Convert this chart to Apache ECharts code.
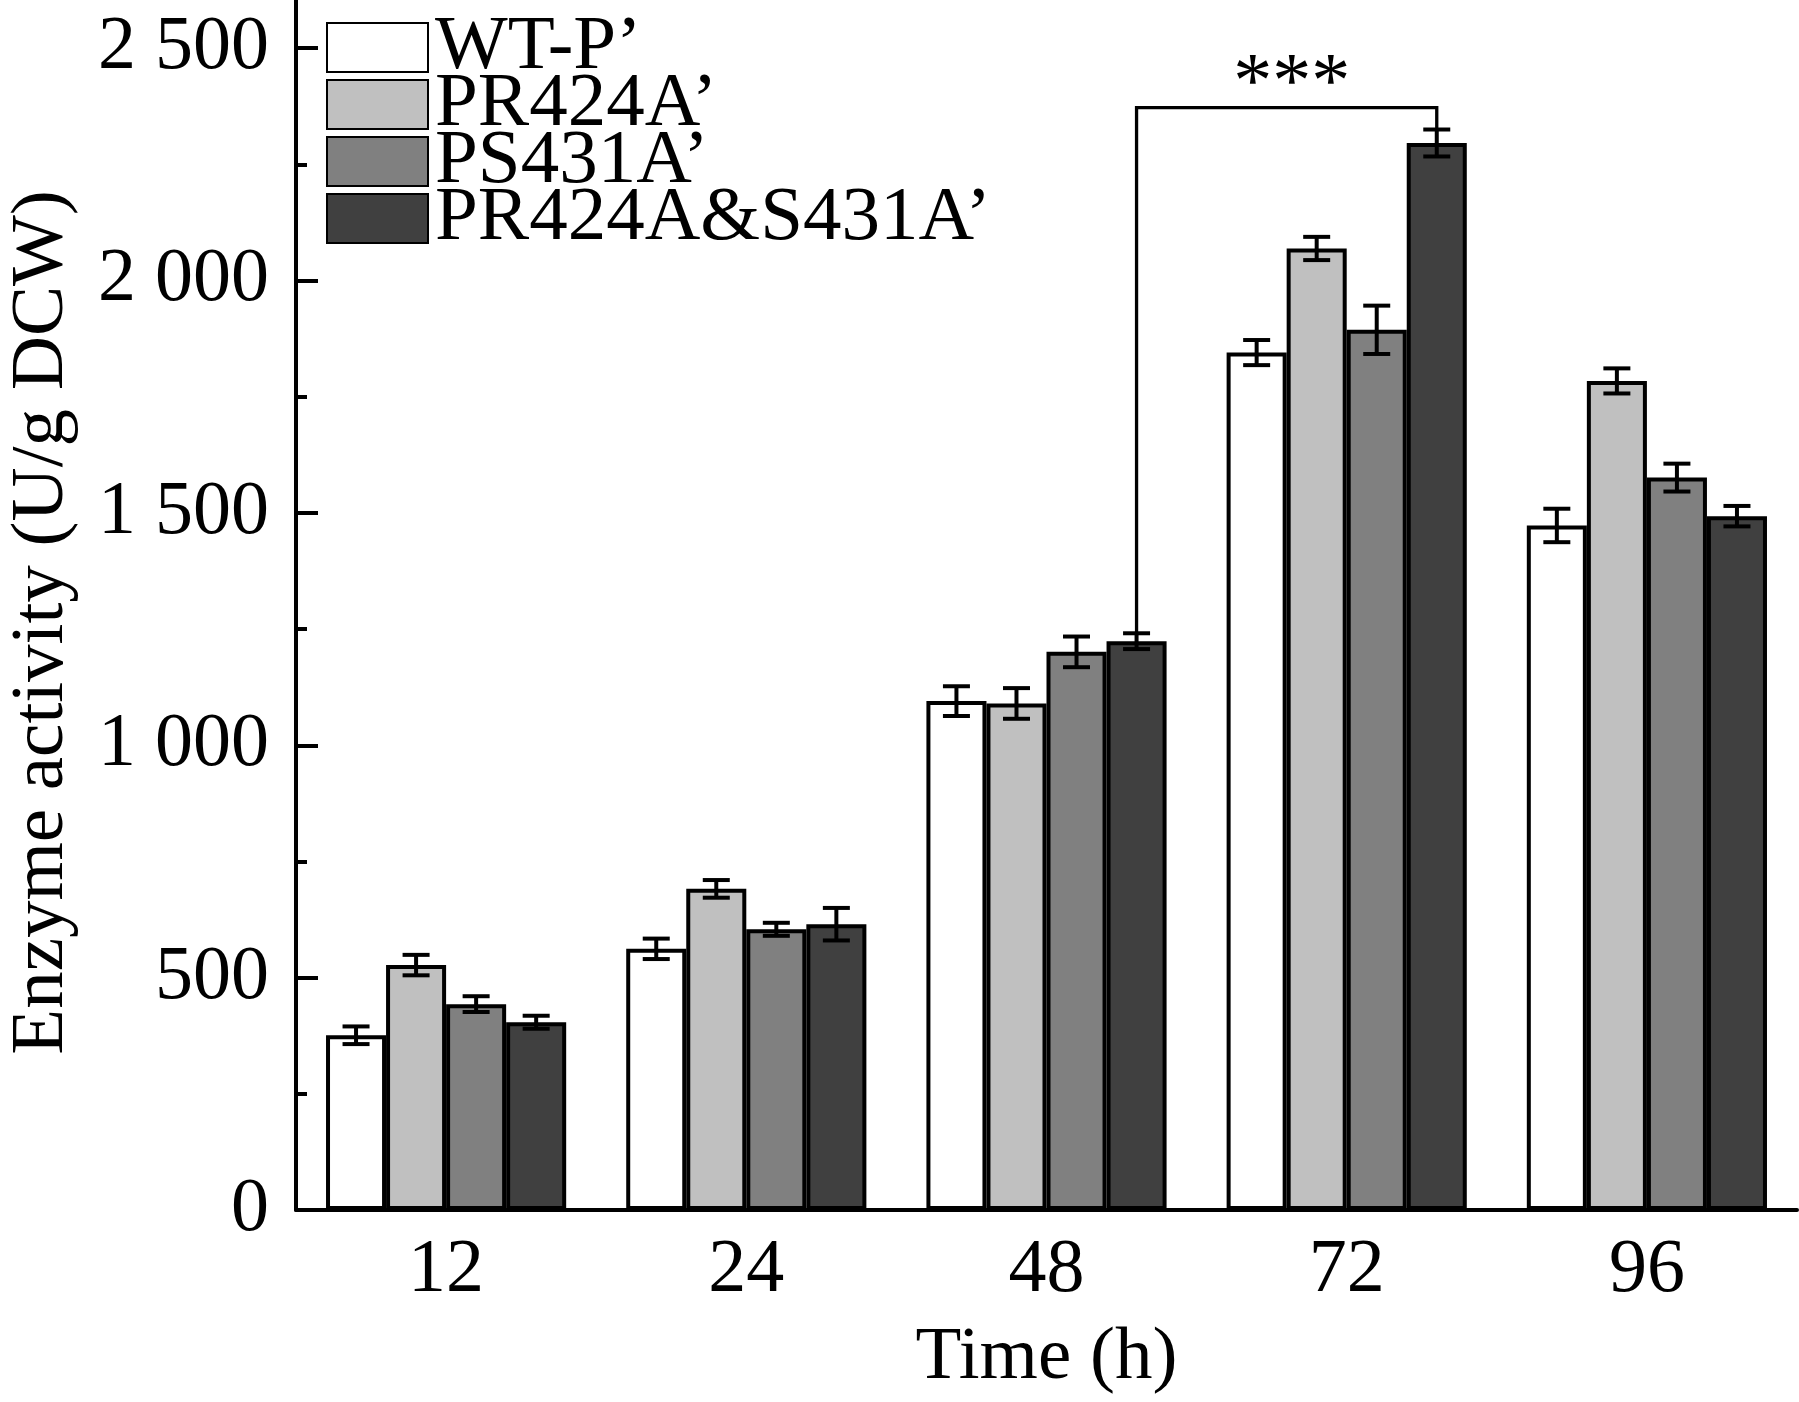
<!DOCTYPE html>
<html>
<head>
<meta charset="utf-8">
<script src="https://cdn.jsdelivr.net/npm/echarts@6/dist/echarts.min.js"></script>
<style>
  html, body { margin: 0; padding: 0; background: #fff; }
  #main { width: 1799px; height: 1402px; }
</style>
</head>
<body>
<div id="main"></div>
<script>
// x categories (h)
var times = ['12', '24', '48', '72', '96'];
var names = ['WT-P’', 'PR424A’', 'PS431A’', 'PR424A&S431A’'];
var colors = ['#ffffff', '#c0c0c0', '#808080', '#404040'];

// enzyme activity (U/g DCW) and error (+/-)
var wtP = [376, 562, 1095, 1845, 1473];
var wtPErr = [19, 22, 32, 27, 36];
var pr424a = [527, 691, 1090, 2069, 1784];
var pr424aErr = [22, 19, 33, 25, 27];
var ps431a = [443, 604, 1201, 1894, 1576];
var ps431aErr = [17, 14, 33, 52, 30];
var prs = [404, 615, 1224, 2296, 1493];
var prsErr = [14, 35, 17, 29, 22];

// significance bracket: double mutant 48 h vs 72 h
var sigFrom = 2, sigTo = 3;
var sigTop = 2372;
var sigLabel = '***';

var font = 'Liberation Serif, Times New Roman, serif';
var values = [wtP, pr424a, ps431a, prs];
var errors = [wtPErr, pr424aErr, ps431aErr, prsErr];

var chart = echarts.init(document.getElementById('main'));

function errRender(idx) {
  return function (params, api) {
    var band = api.size([1, 0])[0];
    var off = band * (-0.4 + 0.2 * (idx + 0.5));
    var lo = api.coord([api.value(0), api.value(1)]);
    var hi = api.coord([api.value(0), api.value(2)]);
    var x = lo[0] + off, hw = 13.5;
    var st = { stroke: '#000', lineWidth: 4 };
    return {
      type: 'group',
      children: [
        { type: 'line', shape: { x1: x, y1: lo[1], x2: x, y2: hi[1] }, style: st },
        { type: 'line', shape: { x1: x - hw, y1: lo[1], x2: x + hw, y2: lo[1] }, style: st },
        { type: 'line', shape: { x1: x - hw, y1: hi[1], x2: x + hw, y2: hi[1] }, style: st }
      ]
    };
  };
}

function bracketRender(params, api) {
  var band = api.size([1, 0])[0];
  var off = band * 0.3;
  var a = api.coord([api.value(0), api.value(2)]);
  var b = api.coord([api.value(1), api.value(3)]);
  var t = api.coord([api.value(0), api.value(4)])[1];
  var x1 = a[0] + off, x2 = b[0] + off;
  return {
    type: 'group',
    children: [
      {
        type: 'polyline',
        shape: { points: [[x1, a[1]], [x1, t], [x2, t], [x2, b[1]]] },
        style: { stroke: '#000', lineWidth: 3.3, fill: null }
      },
      {
        type: 'text',
        x: (x1 + x2) / 2 + 5,
        y: t - 22,
        style: {
          text: sigLabel, fill: '#000', font: '78px ' + font,
          textAlign: 'center', textVerticalAlign: 'middle'
        }
      }
    ]
  };
}

var series = [];
names.forEach(function (n, i) {
  series.push({
    name: n,
    type: 'bar',
    data: values[i],
    barGap: '0%',
    barCategoryGap: '20%',
    itemStyle: { color: colors[i], borderColor: '#000', borderWidth: 4 }
  });
});
names.forEach(function (n, i) {
  series.push({
    type: 'custom',
    renderItem: errRender(i),
    encode: { x: 0, y: [1, 2] },
    z: 5,
    data: values[i].map(function (v, k) { return [k, v - errors[i][k], v + errors[i][k]]; })
  });
});
series.push({
  type: 'custom',
  renderItem: bracketRender,
  encode: { x: [0, 1], y: [2, 3, 4] },
  z: 6,
  data: [[sigFrom, sigTo, prs[sigFrom] + prsErr[sigFrom], prs[sigTo] + prsErr[sigTo], sigTop]]
});

var option = {
  animation: false,
  backgroundColor: '#fff',
  grid: { left: 296, right: 2, top: -68, bottom: 192, outerBoundsMode: 'none' },
  legend: {
    data: names,
    orient: 'vertical',
    left: 326,
    top: 9,
    padding: 0,
    itemWidth: 101,
    itemHeight: 49,
    itemGap: -20,
    selectedMode: false,
    icon: 'rect',
    textStyle: { color: '#000', fontSize: 77, fontFamily: font, padding: [0, 0, 0, 2] }
  },
  xAxis: {
    type: 'category',
    data: times,
    axisLine: { lineStyle: { color: '#000', width: 4 } },
    axisTick: { inside: true, length: 12, lineStyle: { color: '#000', width: 4 } },
    axisLabel: { margin: 23, color: '#000', fontSize: 76, fontFamily: font },
    name: 'Time (h)',
    nameLocation: 'middle',
    nameGap: 111,
    nameTextStyle: { color: '#000', fontSize: 75, fontFamily: font }
  },
  yAxis: {
    type: 'value',
    min: 0,
    max: 2750,
    interval: 500,
    axisLine: { show: true, lineStyle: { color: '#000', width: 4 } },
    axisTick: { show: true, inside: true, length: 22, lineStyle: { color: '#000', width: 4 } },
    minorTick: { show: true, splitNumber: 2, length: 11, lineStyle: { color: '#000', width: 4 } },
    splitLine: { show: false },
    axisLabel: {
      showMaxLabel: false,
      margin: 27,
      color: '#000',
      fontSize: 76,
      fontFamily: font,
      formatter: function (v) {
        return v >= 1000 ? String(v).replace(/(\d)(\d{3})$/, '$1 $2') : String(v);
      }
    },
    name: 'Enzyme activity (U/g DCW)',
    nameLocation: 'middle',
    nameGap: 216,
    nameTextStyle: { color: '#000', fontSize: 75, fontFamily: font, padding: [0, 103, 0, 0] }
  },
  series: series
};

chart.setOption(option);
</script>
</body>
</html>
